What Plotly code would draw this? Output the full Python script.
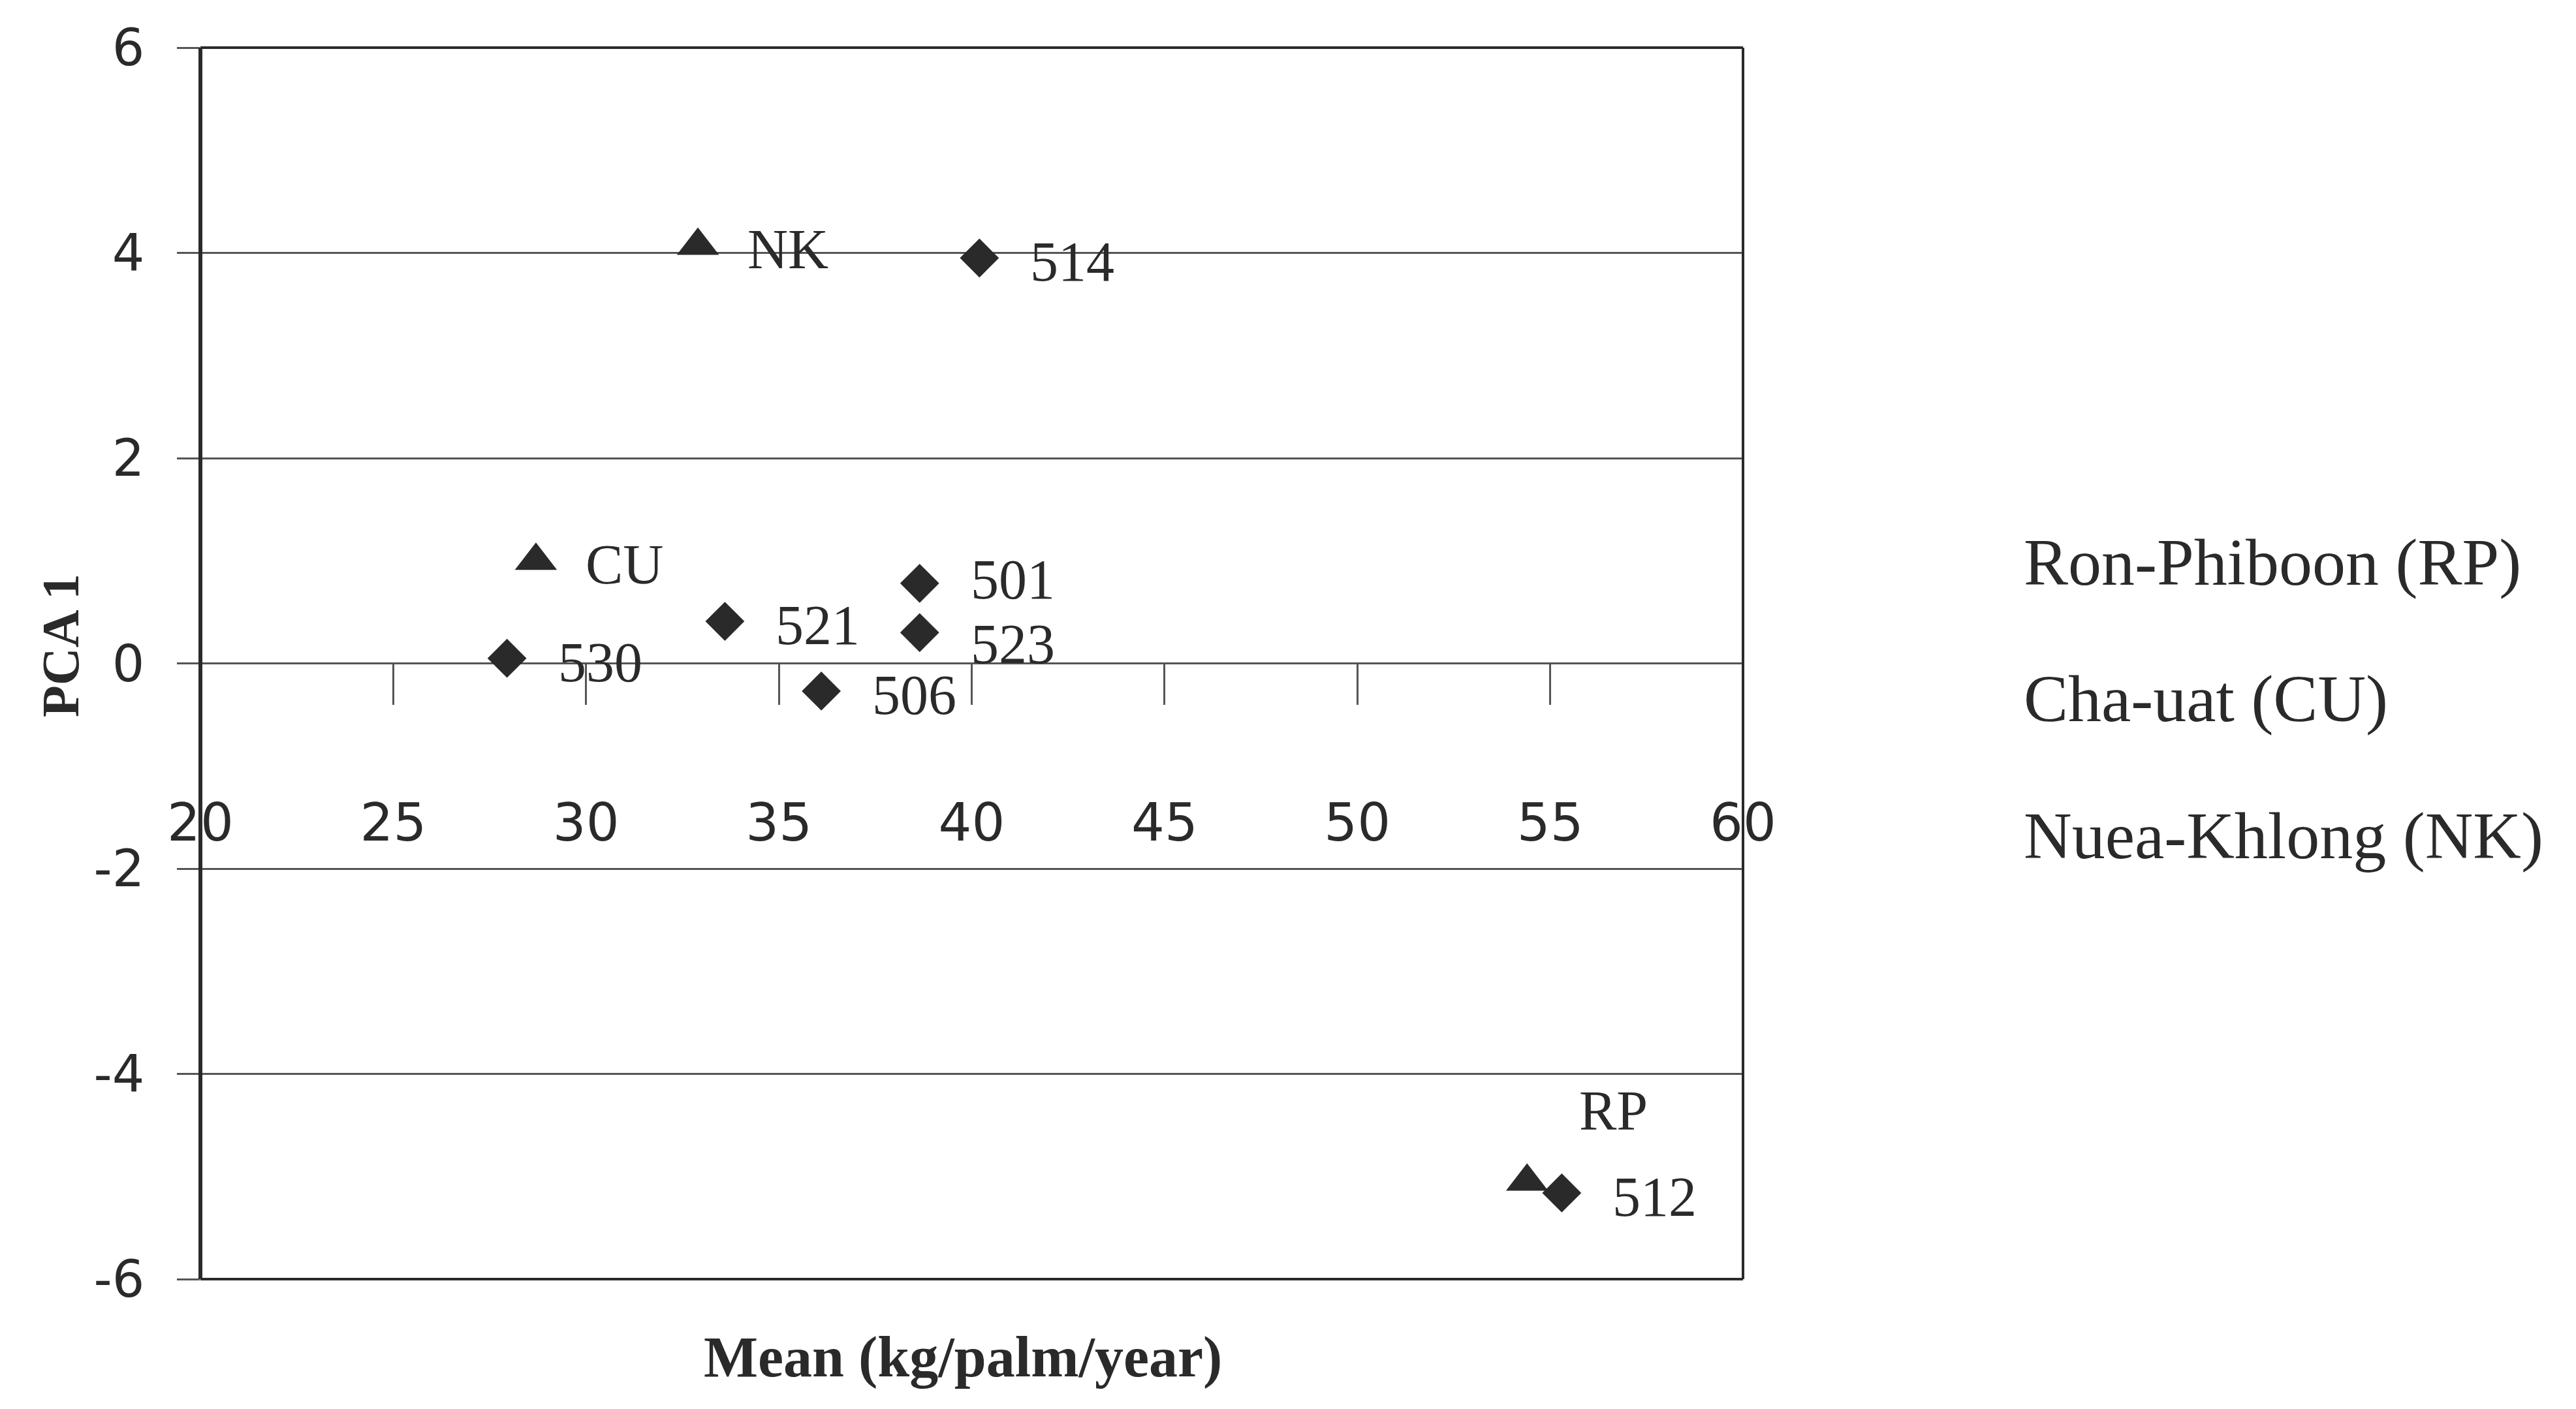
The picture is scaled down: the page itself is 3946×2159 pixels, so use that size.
import plotly.graph_objects as go

# ---------------- data ----------------
# locations (triangles)
loc_labels = ["NK", "CU", "RP"]
loc_x = [32.9, 28.7, 54.4]
loc_y = [4.07, 1.00, -5.05]

# varieties (diamonds)
var_labels = ["514", "501", "523", "521", "530", "506", "512"]
var_x = [40.2, 38.65, 38.65, 33.6, 27.95, 36.1, 55.3]
var_y = [3.95, 0.78, 0.30, 0.41, 0.05, -0.27, -5.16]

# legend entries (text only, as in the original)
legend_names = ["Ron-Phiboon (RP)", "Cha-uat (CU)", "Nuea-Khlong (NK)"]

# axes
x_tickvals = [20, 25, 30, 35, 40, 45, 50, 55, 60]
y_tickvals = [-6, -4, -2, 0, 2, 4, 6]
y_ticktext = ["-6", "-4", "-2", "0", "2", "4", "6"]
x_title = "Mean (kg/palm/year)"
y_title = "PCA 1"

# ---------------- styling ----------------
PAGE_OFF = 8                      # default body margin of the html page
W, H = 3946 - 2 * PAGE_OFF, 2159 - 2 * PAGE_OFF
PLOT_L, PLOT_T, PLOT_R, PLOT_B = 307, 73, 2670, 1960   # plot area in page pixels
ML, MT = PLOT_L - PAGE_OFF, PLOT_T - PAGE_OFF
PW, PH = PLOT_R - PLOT_L, PLOT_B - PLOT_T
MR, MB = W - ML - PW, H - MT - PH
INK = "#2a2a2a"
GRID = "#555555"
SERIF = "Liberation Serif"
SANS = "DejaVu Sans"


def px(xp):
    return (xp - PLOT_L) / PW


def py(yp):
    return (PLOT_B - yp) / PH


fig = go.Figure()

fig.add_trace(go.Scatter(
    x=var_x, y=var_y, mode="markers", name="Varieties",
    marker=dict(symbol="diamond", size=46, color=INK, line=dict(width=0)),
    showlegend=False, hoverinfo="x+y+text", text=var_labels,
))
fig.add_trace(go.Scatter(
    x=loc_x, y=loc_y, mode="markers", name="Locations",
    marker=dict(symbol="triangle-up", size=56, color=INK, line=dict(width=0)),
    showlegend=False, hoverinfo="x+y+text", text=loc_labels,
))

annotations = []
# point labels (small per-label nudges keep the two stacked labels apart)
var_yshift = {"501": 6, "523": -18}
for lab, xv, yv in zip(var_labels, var_x, var_y):
    annotations.append(dict(x=xv, y=yv, xref="x", yref="y", text=lab, showarrow=False,
                            xanchor="left", yanchor="middle", xshift=76,
                            yshift=var_yshift.get(lab, -6),
                            font=dict(family=SERIF, size=86, color=INK)))
for lab, xv, yv in zip(loc_labels, loc_x, loc_y):
    if lab == "RP":
        xs, ys = 78, 109
    else:
        xs, ys = 74, -6
    annotations.append(dict(x=xv, y=yv, xref="x", yref="y", text=lab, showarrow=False,
                            xanchor="left", yanchor="middle", xshift=xs, yshift=ys,
                            font=dict(family=SERIF, size=86, color=INK)))

# legend text on the right
for i, name in enumerate(legend_names):
    annotations.append(dict(x=px(3098), y=py(861 + i * 209.5), xref="paper", yref="paper",
                            text=name, showarrow=False, xanchor="left", yanchor="middle",
                            font=dict(family=SERIF, size=102, color=INK)))

# axis titles
annotations.append(dict(x=px(1475), y=py(2079), xref="paper", yref="paper",
                        text="<b>" + x_title + "</b>", showarrow=False,
                        xanchor="center", yanchor="middle",
                        font=dict(family=SERIF, size=88, color=INK)))
annotations.append(dict(x=px(93), y=py(989), xref="paper", yref="paper",
                        text="<b>" + y_title + "</b>", showarrow=False, textangle=-90,
                        xanchor="center", yanchor="middle",
                        font=dict(family=SERIF, size=80, color=INK)))

# frame
shapes = [
    dict(type="line", xref="paper", yref="paper", x0=0, x1=0, y0=0, y1=1, line=dict(color=INK, width=6), layer="above"),
    dict(type="line", xref="paper", yref="paper", x0=0, x1=1, y0=1, y1=1, line=dict(color=INK, width=4), layer="above"),
    dict(type="line", xref="paper", yref="paper", x0=1, x1=1, y0=0, y1=1, line=dict(color=INK, width=4), layer="above"),
    dict(type="line", xref="paper", yref="paper", x0=0, x1=1, y0=0, y1=0, line=dict(color=INK, width=4), layer="above"),
]

fig.update_layout(
    width=W, height=H,
    margin=dict(l=ML, r=MR, t=MT, b=MB, autoexpand=False),
    paper_bgcolor="white", plot_bgcolor="white",
    showlegend=False,
    annotations=annotations,
    shapes=shapes,
    xaxis=dict(
        range=[20, 60], tickvals=x_tickvals, anchor="free", position=0.5,
        ticks="outside", ticklen=62, tickwidth=2.5, tickcolor=GRID,
        showgrid=False, zeroline=False, showline=False,
        tickfont=dict(family=SANS, size=80, color=INK),
        ticklabelstandoff=112,
    ),
    yaxis=dict(
        range=[-6, 6], tickvals=y_tickvals, ticktext=y_ticktext,
        ticks="outside", ticklen=35, tickwidth=2.5, tickcolor=GRID,
        showgrid=True, gridcolor=GRID, gridwidth=2.5,
        zeroline=False, showline=False,
        tickfont=dict(family=SANS, size=78, color=INK),
        ticklabelstandoff=34,
    ),
)

fig.write_html("out.html")
